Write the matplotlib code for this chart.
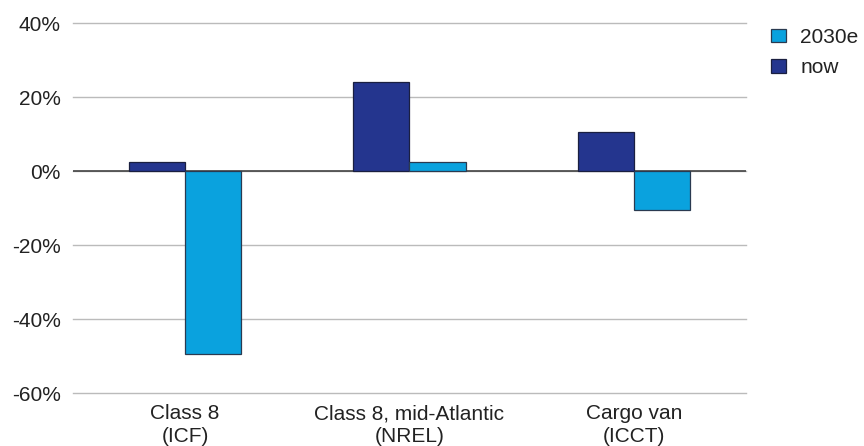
import matplotlib.pyplot as plt
import numpy as np

categories = ["Class 8\n(ICF)", "Class 8, mid-Atlantic\n(NREL)", "Cargo van\n(ICCT)"]
now = [2.4, 24.0, 10.5]
e2030 = [-49.5, 2.4, -10.5]

navy = "#24358e"
cyan = "#0aa2de"
txt = "#222222"

plt.rcParams['font.family'] = ['Liberation Sans', 'DejaVu Sans']
fig = plt.figure(figsize=(8.64, 4.46), dpi=100)
ax = fig.add_axes([0.0845, 0.1188, 0.7789, 0.8296])

x = np.arange(len(categories))
w = 0.25
ax.bar(x - w / 2, now, w, color=navy, edgecolor="#1a1f40", linewidth=0.9, label="now", zorder=3)
ax.bar(x + w / 2, e2030, w, color=cyan, edgecolor="#2a3a50", linewidth=0.9, label="2030e", zorder=3)

ax.set_xlim(-0.5, 2.5)
ax.set_ylim(-60, 40)
ax.set_yticks([-60, -40, -20, 0, 20, 40])
ax.set_yticklabels([f"{v}%" for v in [-60, -40, -20, 0, 20, 40]])
ax.set_xticks(x)
ax.set_xticklabels(categories, linespacing=1.25)
ax.tick_params(length=0, labelsize=15, labelcolor=txt, pad=8)
ax.tick_params(axis='y', pad=9)
ax.yaxis.grid(True, color="#bbbbbb", linewidth=1, zorder=0)
for gl in ax.get_ygridlines():
    gl.set_clip_on(False)
ax.axhline(0, color="#444444", linewidth=1.2, zorder=2)
for s in ax.spines.values():
    s.set_visible(False)

h, l = ax.get_legend_handles_labels()
ax.legend(h[::-1], l[::-1], loc="upper left", bbox_to_anchor=(771 / 864, 1 - 28 / 446),
          bbox_transform=fig.transFigure, borderaxespad=0, borderpad=0, frameon=False,
          fontsize=15, handlelength=0.7, handleheight=0.6, labelcolor=txt, handletextpad=0.7,
          labelspacing=0.55)

fig.savefig("out.png", dpi=100)
